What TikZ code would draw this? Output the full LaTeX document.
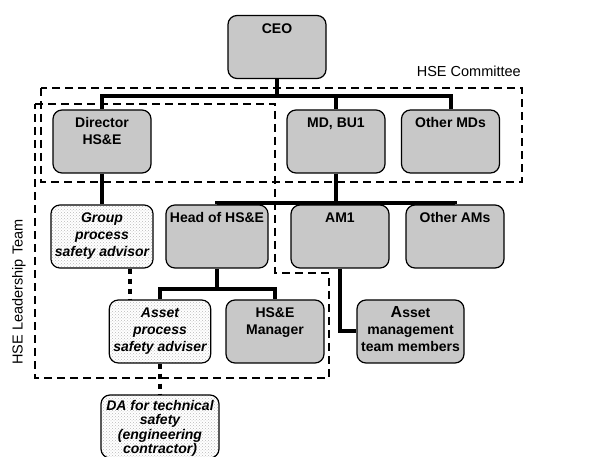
\documentclass[tikz,border=0pt]{standalone}
\usepackage{fontspec}
\setsansfont{Liberation Sans}
\usetikzlibrary{positioning,patterns}
\definecolor{boxgray}{RGB}{200,200,200}
\newcommand{\boxlines}[1]{\begin{tabular}[t]{@{}c@{}}#1\end{tabular}}
\tikzstyle{unit}=[draw, fill=boxgray, rounded corners=9pt, line width=1.2pt, minimum width=98pt, minimum height=63pt, text height=14pt, text depth=41pt, inner sep=4pt, font=\sffamily\bfseries\fontsize{14}{17}\selectfont]
\tikzstyle{adv}=[unit, fill=none, pattern=crosshatch dots, pattern color=gray!55, font=\sffamily\bfseries\itshape\fontsize{14}{17}\selectfont]
\tikzstyle{tree}=[line width=4pt]
\tikzstyle{dotlink}=[line width=4pt, dash pattern=on 5pt off 5pt]
\tikzstyle{team}=[line width=1.3pt, dash pattern=on 8pt off 5pt]
\tikzstyle{caption}=[font=\sffamily\fontsize{14.5}{16}\selectfont, inner sep=0pt]
\begin{document}
\begin{tikzpicture}[x=1pt,y=-1pt,node distance=2cm]
\useasboundingbox (0,0) rectangle (606,457);

% dashed team frames
\draw[team] (41,88) rectangle (522,182);
\draw[team] (35,104) -- (275,104) -- (275,273) -- (329,273) -- (329,378) -- (35,378) -- cycle;

\node[unit] at (277,47) (ceo) {CEO};
\node[unit] at (102,141.5) (dir) {\boxlines{Director\\HS\&E}};
\node[unit, right of=dir, node distance=234pt] (md) {MD, BU1};
\node[unit, right of=md, node distance=114.5pt] (omd) {Other MDs};

\node[adv, below of=dir, node distance=95pt] (grp) {\boxlines{Group\\process\\safety advisor}};
\node[unit, right of=grp, node distance=115pt] (head) {Head of HS\&E};
\node[unit, right of=head, node distance=123pt] (am1) {AM1};
\node[unit, right of=am1, node distance=115pt] (oam) {Other AMs};

\node[adv] at (160,331.5) (apsa) {\boxlines{Asset\\process\\safety adviser}};
\node[unit, right of=apsa, node distance=115pt] (mgr) {\boxlines{HS\&E\\Manager}};
\node[unit, minimum width=107pt, right of=mgr, node distance=135.5pt] (amt) {\boxlines{{\fontsize{16}{17}\selectfont A}sset\\management\\team members}};

\node[adv, minimum width=118pt, text height=11pt, text depth=44pt, font=\sffamily\bfseries\itshape\fontsize{14}{14.5}\selectfont, below of=apsa, node distance=95pt] (da) {\boxlines{DA for technical\\safety\\(engineering\\contractor)}};

\node[caption, anchor=base east] at (521,77) (hsec) {HSE Committee};
\node[caption, rotate=90] at (19,292) (hsel) {HSE Leadership Team};

% reporting lines
\draw[tree] (ceo.south) -- ++(0,17) coordinate (bus1) -| (dir.north);
\draw[tree] (bus1) -| (md.north);
\draw[tree] (bus1) -| (omd.north);
\draw[tree] (dir.south) -- (grp.north);
\draw[tree] (md.south) -- ++(0,29) coordinate (bus2) -| (head.north);
\draw[tree] (bus2) -| (am1.north);
\draw[tree] (bus2) -| (oam.north);
\draw[tree] (head.south) -- ++(0,20) coordinate (bus3) -| (apsa.north);
\draw[tree] (bus3) -| (mgr.north);
\draw[tree] (am1.south) |- (amt.west);

% advisory lines
\path (grp.south) ++(28,0) coordinate (gdot);
\draw[dotlink] (gdot) -- (gdot |- apsa.north);
\draw[dotlink] (apsa.south) -- (da.north);
\end{tikzpicture}
\end{document}
